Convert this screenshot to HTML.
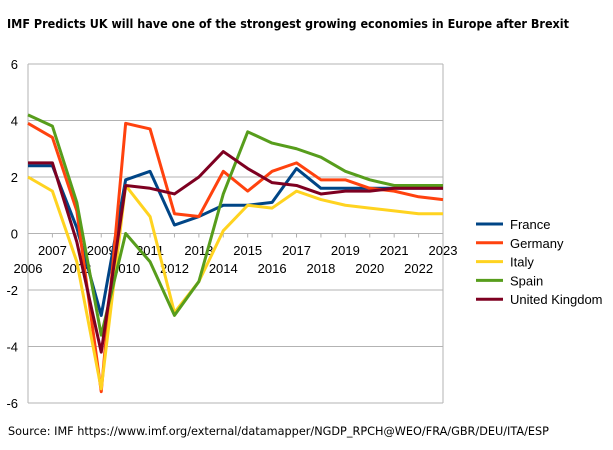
<!DOCTYPE html>
<html><head><meta charset="utf-8"><style>
body{margin:0;background:#fff;width:613px;height:450px;overflow:hidden;font-family:"Liberation Sans",sans-serif}
svg{display:block}
</style></head><body>
<svg id="c" width="613" height="450">
<text x="7" y="28" font-family="DejaVu Sans, sans-serif" font-weight="bold" font-size="12.5" textLength="562" lengthAdjust="spacingAndGlyphs">IMF Predicts UK will have one of the strongest growing economies in Europe after Brexit</text>
<text x="8" y="435" font-family="DejaVu Sans, sans-serif" font-size="11.5" textLength="541" lengthAdjust="spacingAndGlyphs">Source: IMF https://www.imf.org/external/datamapper/NGDP_RPCH@WEO/FRA/GBR/DEU/ITA/ESP</text>
<g id="grid"></g><g id="series"></g><g id="legend"></g>
</svg>
<script>
const years=[2006,2007,2008,2009,2010,2011,2012,2013,2014,2015,2016,2017,2018,2019,2020,2021,2022,2023];
const yTicks=[6,4,2,0,-2,-4,-6];
const seriesNames=["France","Germany","Italy","Spain","United Kingdom"];
const france=[2.4,2.4,0.2,-2.9,1.9,2.2,0.3,0.6,1.0,1.0,1.1,2.3,1.6,1.6,1.6,1.6,1.6,1.6];
const germany=[3.9,3.4,0.8,-5.6,3.9,3.7,0.7,0.6,2.2,1.5,2.2,2.5,1.9,1.9,1.6,1.5,1.3,1.2];
const italy=[2.0,1.5,-1.0,-5.5,1.7,0.6,-2.8,-1.7,0.1,1.0,0.9,1.5,1.2,1.0,0.9,0.8,0.7,0.7];
const spain=[4.2,3.8,1.1,-3.6,0.0,-1.0,-2.9,-1.7,1.4,3.6,3.2,3.0,2.7,2.2,1.9,1.7,1.7,1.7];
const uk=[2.5,2.5,-0.3,-4.2,1.7,1.6,1.4,2.0,2.9,2.3,1.8,1.7,1.4,1.5,1.5,1.6,1.6,1.6];
const colors=["#004586","#ff420e","#ffd320","#579d1c","#7e0021"];
const NS="http://www.w3.org/2000/svg";
const X0=28,X1=443,Y0=64,Y1=403;
const xs=i=>X0+(X1-X0)*i/(years.length-1);
const ys=v=>Y0+(6-v)*(Y1-Y0)/12;
function mk(t,a,p){const e=document.createElementNS(NS,t);for(const k in a)e.setAttribute(k,a[k]);p.appendChild(e);return e;}
const g=document.getElementById('grid');
yTicks.forEach(v=>{
 const l=mk('line',{x1:X0,x2:X1,y1:ys(v),y2:ys(v),stroke:'#b3b3b3','stroke-width':1},g);
 
 
 const t=mk('text',{x:18,y:ys(v)+5,'text-anchor':'end','font-size':13},g);
 t.textContent=v;
 
 
});
const ax=mk('line',{x1:X0,x2:X0,y1:Y0,y2:Y1,stroke:'#b3b3b3'},g);


const rx=mk('line',{x1:X1,x2:X1,y1:Y0,y2:Y1,stroke:'#b3b3b3'},g);


years.forEach((y,i)=>{
 const tk=mk('line',{x1:xs(i),x2:xs(i),y1:ys(0),y2:ys(0)+4,stroke:'#b3b3b3'},g);
 
 
 const t=mk('text',{x:xs(i),y:i%2?255:273,'text-anchor':'middle','font-size':13},g);
 t.textContent=y;
 
 
});
const s=document.getElementById('series');
[france,germany,italy,spain,uk].forEach((d,k)=>{
 const p=mk('polyline',{points:d.map((v,i)=>xs(i)+','+ys(v)).join(' '),fill:'none',stroke:colors[k],'stroke-width':3,'stroke-linejoin':'round'},s);
 
 
});
const lg=document.getElementById('legend');
seriesNames.forEach((n,k)=>{
 const y=224+k*18.8;
 const gg=mk('g',{},lg);
 
 
 mk('line',{x1:476,x2:503,y1:y,y2:y,stroke:colors[k],'stroke-width':3},gg);
 const t=mk('text',{x:510,y:y+5,'font-size':13},gg);
 t.textContent=n;
});
</script>
</body></html>
